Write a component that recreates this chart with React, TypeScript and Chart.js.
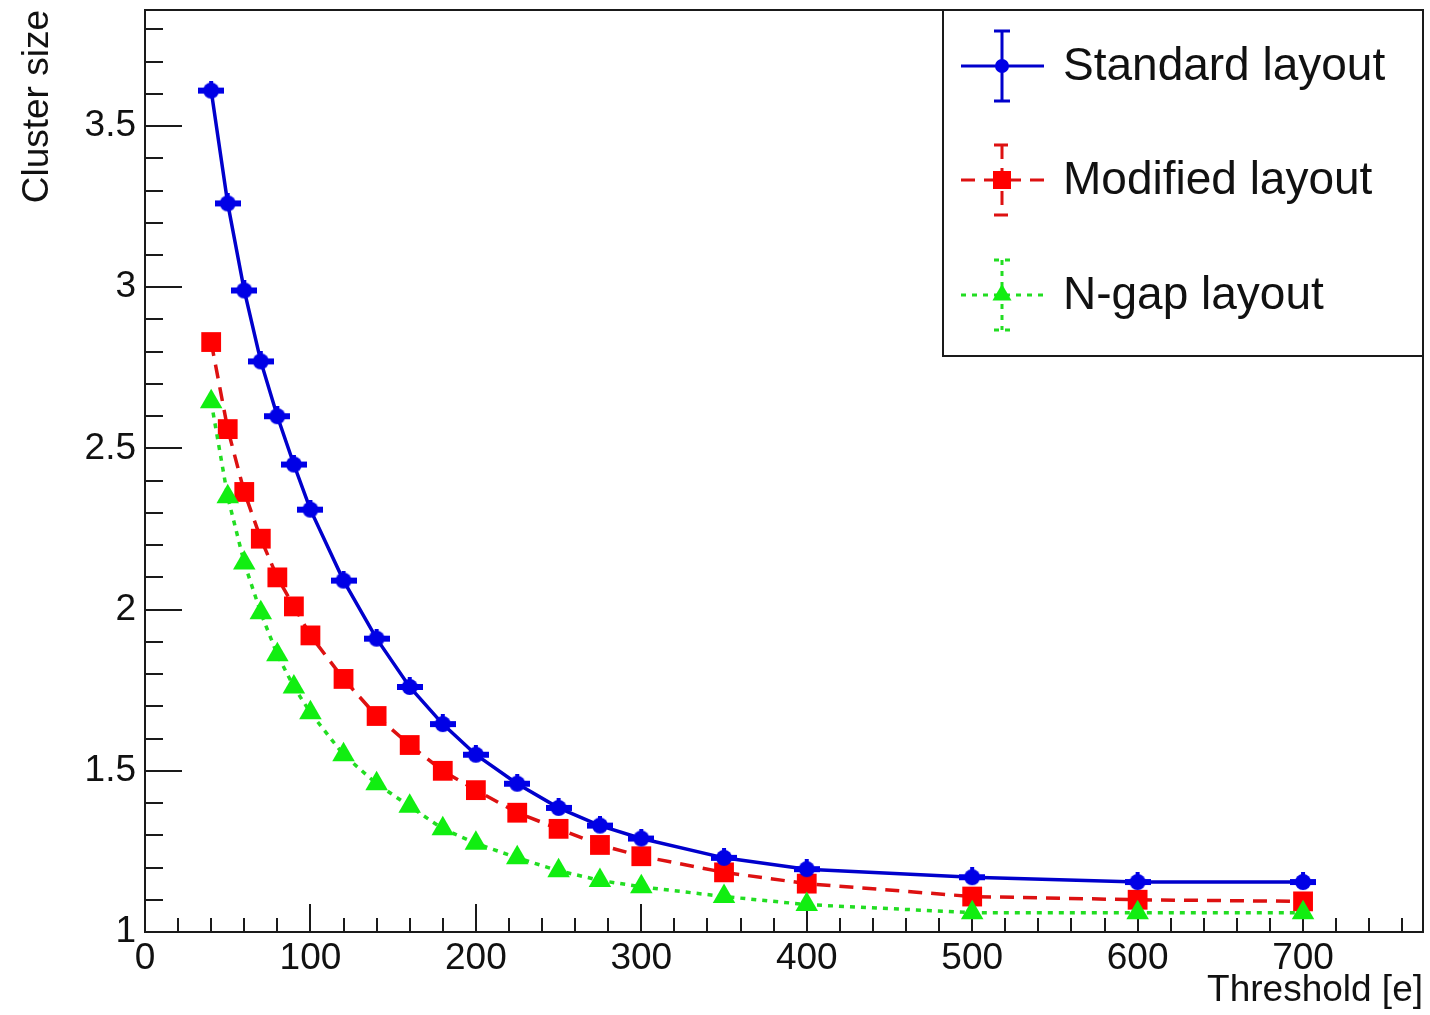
import React, { useEffect, useRef } from "react";
import { Chart, registerables } from "chart.js";

Chart.register(...registerables);

// Threshold values (electrons) at which the cluster size was measured
const thresholds = [40, 50, 60, 70, 80, 90, 100, 120, 140, 160, 180, 200, 225, 250, 275, 300, 350, 400, 500, 600, 700];

// Mean cluster size for each pixel layout
const standardLayout = [3.61, 3.26, 2.99, 2.77, 2.6, 2.45, 2.31, 2.09, 1.91, 1.76, 1.645, 1.55, 1.46, 1.385, 1.33, 1.29, 1.23, 1.195, 1.17, 1.155, 1.155];
const modifiedLayout = [2.83, 2.56, 2.365, 2.22, 2.1, 2.01, 1.92, 1.785, 1.67, 1.58, 1.5, 1.44, 1.37, 1.32, 1.27, 1.235, 1.185, 1.15, 1.11, 1.1, 1.095];
const nGapLayout = [2.645, 2.35, 2.145, 1.99, 1.86, 1.76, 1.68, 1.55, 1.46, 1.39, 1.32, 1.275, 1.23, 1.19, 1.16, 1.14, 1.11, 1.085, 1.06, 1.06, 1.06];

const seriesLabels = ["Standard layout", "Modified layout", "N-gap layout"];

// Axis labelling
const xTickLabels = [0, 100, 200, 300, 400, 500, 600, 700];
const yTickLabels = [1, 1.5, 2, 2.5, 3, 3.5];
const xTitle = "Threshold [e]";
const yTitle = "Cluster size";

const X_MIN = 0;
const X_MAX = 772.5;
const Y_MIN = 1;
const Y_MAX = 3.86;
const X_MINOR_STEP = 20;
const Y_MINOR_STEP = 0.1;

const FONT = "'Liberation Sans', Arial, Helvetica, sans-serif";
const TEXT = "#111111";

const BLUE = "#0000e6";
const BLUE_LINE = "#0000cc";
const RED = "#ff0000";
const RED_LINE = "#dd1111";
const GREEN = "#11ee11";
const GREEN_LINE = "#22dd22";

const toPoints = (ys: number[]) => thresholds.map((x, i) => ({ x, y: ys[i] }));

// Filled circle with short horizontal error wings
function makeCircleMarker(color: string): HTMLCanvasElement {
  const c = document.createElement("canvas");
  c.width = 26;
  c.height = 20;
  const g = c.getContext("2d")!;
  g.fillStyle = color;
  g.beginPath();
  g.arc(13, 10, 8, 0, Math.PI * 2);
  g.fill();
  g.fillRect(0, 7, 26, 6);
  g.fillRect(11, 0, 4, 4);
  return c;
}

// Keep the plot frame exactly where the axes were sized, without label overflow padding
const noScalePadding = (s: any) => {
  s.paddingTop = 0;
  s.paddingBottom = 0;
  s.paddingLeft = 0;
  s.paddingRight = 0;
};

// Inward ROOT-style ticks and the frame around the plot area
const frameTicks = {
  id: "frameTicks",
  beforeDatasetsDraw(chart: any) {
    const { ctx, chartArea: a } = chart;
    const xs = chart.scales.x;
    const ys = chart.scales.y;
    ctx.save();
    ctx.strokeStyle = "#1a1a1a";
    ctx.lineWidth = 2;
    ctx.beginPath();
    for (let i = 0; ; i++) {
      const v = X_MIN + i * X_MINOR_STEP;
      if (v > X_MAX) break;
      const px = Math.round(xs.getPixelForValue(v));
      const len = i % 5 === 0 ? 28 : 14;
      ctx.moveTo(px, a.bottom);
      ctx.lineTo(px, a.bottom - len);
    }
    for (let i = 0; ; i++) {
      const v = Y_MIN + i * Y_MINOR_STEP;
      if (v > Y_MAX + 1e-9) break;
      const py = Math.round(ys.getPixelForValue(v));
      const len = i % 5 === 0 ? 37 : 18;
      ctx.moveTo(a.left, py);
      ctx.lineTo(a.left + len, py);
    }
    ctx.stroke();
    ctx.strokeRect(a.left, a.top, a.right - a.left, a.bottom - a.top);
    ctx.restore();
  },
};

// Boxed legend in the upper-right corner with error-bar style samples
const boxLegend = {
  id: "boxLegend",
  afterDraw(chart: any) {
    const { ctx, chartArea: a } = chart;
    const w = 480;
    const h = 346;
    const left = a.right - w;
    const top = a.top;
    ctx.save();
    ctx.fillStyle = "#ffffff";
    ctx.fillRect(left, top, w, h);
    ctx.strokeStyle = "#1a1a1a";
    ctx.lineWidth = 2;
    ctx.strokeRect(left, top, w, h);

    const rows = [56, 170, 285];
    chart.data.datasets.forEach((ds: any, i: number) => {
      const cy = top + rows[i];
      const cx = left + 59;
      ctx.strokeStyle = ds.borderColor;
      ctx.lineWidth = 3;
      ctx.setLineDash(ds.borderDash || []);
      ctx.beginPath();
      ctx.moveTo(left + 18, cy);
      ctx.lineTo(left + 101, cy);
      ctx.moveTo(cx, cy - 35);
      ctx.lineTo(cx, cy + 35);
      ctx.moveTo(cx - 8, cy - 35);
      ctx.lineTo(cx + 8, cy - 35);
      ctx.moveTo(cx - 8, cy + 35);
      ctx.lineTo(cx + 8, cy + 35);
      ctx.stroke();
      ctx.setLineDash([]);

      ctx.fillStyle = ds.legendMarkerColor;
      ctx.beginPath();
      if (ds.legendMarker === "circle") {
        ctx.arc(cx, cy, 7, 0, Math.PI * 2);
      } else if (ds.legendMarker === "rect") {
        ctx.rect(cx - 9, cy - 9, 18, 18);
      } else {
        const r = 11;
        ctx.moveTo(cx, cy - r);
        ctx.lineTo(cx + r * 0.866, cy + r * 0.5);
        ctx.lineTo(cx - r * 0.866, cy + r * 0.5);
        ctx.closePath();
      }
      ctx.fill();

      ctx.fillStyle = TEXT;
      ctx.font = `46px ${FONT}`;
      ctx.textAlign = "left";
      ctx.textBaseline = "middle";
      ctx.fillText(ds.label, left + 120, cy + 1);
    });
    ctx.restore();
  },
};

export default function App() {
  const canvasRef = useRef<HTMLCanvasElement | null>(null);

  useEffect(() => {
    document.body.style.margin = "0";
    const canvas = canvasRef.current;
    if (!canvas) return;

    const blueMarker = makeCircleMarker(BLUE);

    const chart = new Chart(canvas, {
      type: "line",
      data: {
        datasets: [
          {
            label: seriesLabels[0],
            data: toPoints(standardLayout),
            borderColor: BLUE_LINE,
            backgroundColor: BLUE,
            borderWidth: 3.5,
            pointStyle: blueMarker as any,
            pointRadius: 10,
            tension: 0,
            order: 0,
            legendMarker: "circle",
            legendMarkerColor: BLUE,
          } as any,
          {
            label: seriesLabels[1],
            data: toPoints(modifiedLayout),
            borderColor: RED_LINE,
            backgroundColor: RED,
            borderWidth: 3.5,
            borderDash: [14, 9],
            pointStyle: "rect",
            pointRadius: 14,
            pointBorderWidth: 0,
            tension: 0,
            order: 2,
            legendMarker: "rect",
            legendMarkerColor: RED,
          } as any,
          {
            label: seriesLabels[2],
            data: toPoints(nGapLayout),
            borderColor: GREEN_LINE,
            backgroundColor: GREEN,
            borderWidth: 3.5,
            borderDash: [5, 6],
            pointStyle: "triangle",
            pointRadius: 13,
            pointBorderWidth: 0,
            tension: 0,
            order: 1,
            legendMarker: "triangle",
            legendMarkerColor: GREEN,
          } as any,
        ],
      },
      options: {
        responsive: false,
        animation: false,
        devicePixelRatio: 1,
        layout: { autoPadding: false, padding: { left: 0, top: 10, right: 7, bottom: 0 } },
        plugins: {
          legend: { display: false },
          tooltip: { enabled: false },
        },
        scales: {
          x: {
            type: "linear",
            min: X_MIN,
            max: X_MAX,
            afterBuildTicks: (s: any) => {
              s.ticks = xTickLabels.map((v) => ({ value: v }));
            },
            afterFit: (s: any) => {
              s.height = 83;
              noScalePadding(s);
            },
            grid: { display: false, drawTicks: false },
            border: { display: false },
            ticks: {
              autoSkip: false,
              maxRotation: 0,
              padding: 5,
              color: TEXT,
              font: { family: FONT, size: 37 },
              callback: (v: any) => String(v),
            },
            title: {
              display: true,
              text: xTitle,
              align: "end",
              color: TEXT,
              font: { family: FONT, size: 37 },
              padding: { top: 0, bottom: 2 },
            },
          },
          y: {
            type: "linear",
            min: Y_MIN,
            max: Y_MAX,
            afterBuildTicks: (s: any) => {
              s.ticks = yTickLabels.map((v) => ({ value: v }));
            },
            afterFit: (s: any) => {
              s.width = 145;
              noScalePadding(s);
            },
            grid: { display: false, drawTicks: false },
            border: { display: false },
            ticks: {
              autoSkip: false,
              padding: 9,
              color: TEXT,
              font: { family: FONT, size: 37 },
              callback: (v: any) => String(v),
            },
            title: {
              display: true,
              text: yTitle,
              align: "end",
              color: TEXT,
              font: { family: FONT, size: 37 },
              padding: { top: 16, bottom: 0 },
            },
          },
        },
      },
      plugins: [frameTicks, boxLegend],
    } as any);

    return () => chart.destroy();
  }, []);

  return (
    <div style={{ position: "fixed", left: 0, top: 0, width: 1430, height: 1015, background: "#fff" }}>
      <canvas ref={canvasRef} width={1430} height={1015} style={{ display: "block" }} />
    </div>
  );
}
